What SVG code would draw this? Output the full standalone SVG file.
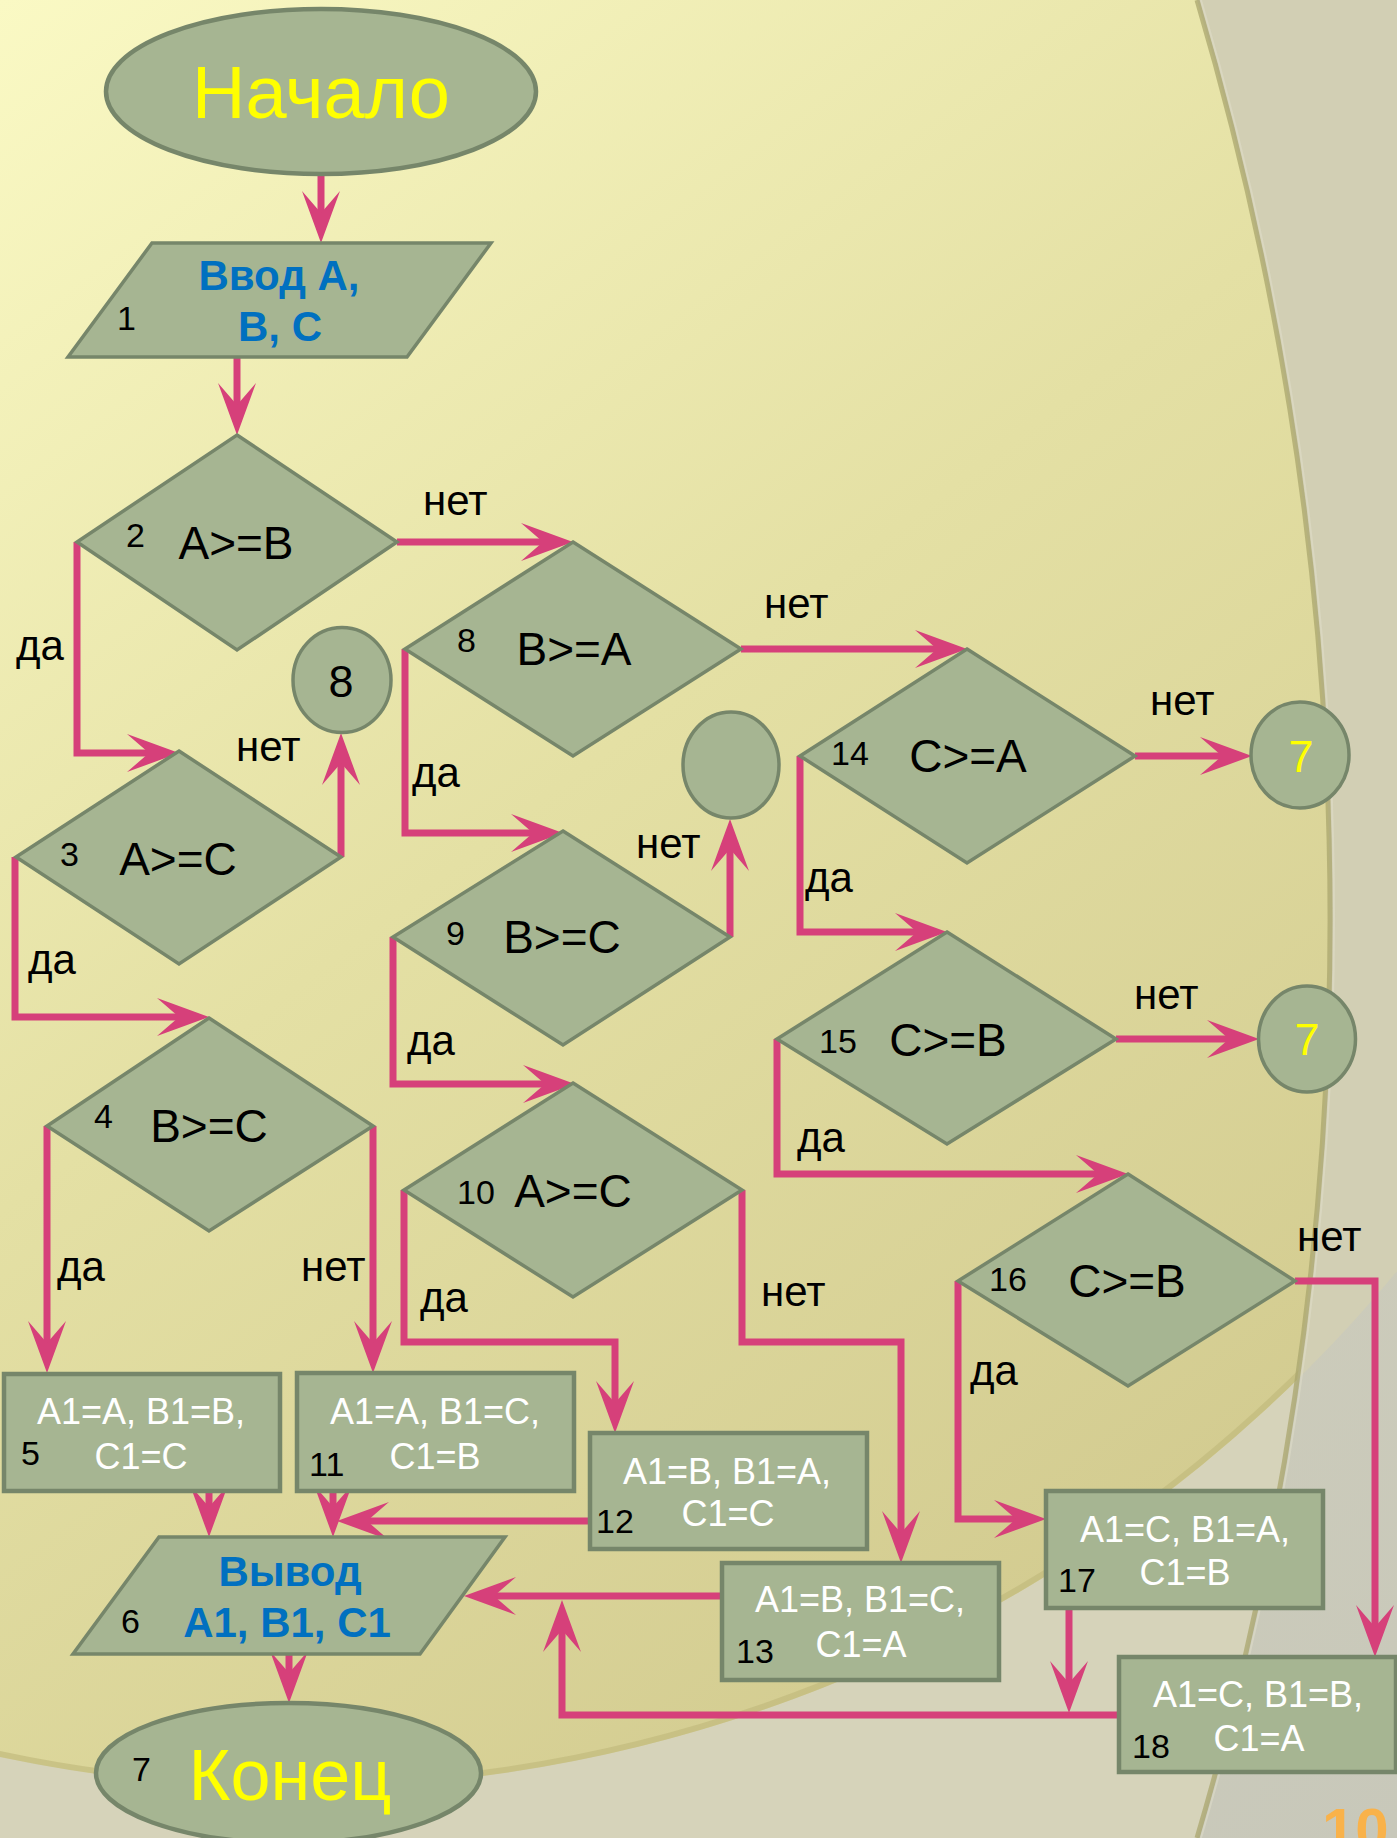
<svg xmlns="http://www.w3.org/2000/svg" width="1397" height="1838" viewBox="0 0 1397 1838">
<defs>
<style>
.sh{fill:#A6B592;stroke:#76866A;stroke-width:3.5}
.bx{fill:#A6B592;stroke:#76866A;stroke-width:4.5}
.cn{fill:none;stroke:#D6407A;stroke-width:7;stroke-linejoin:miter;marker-end:url(#ah)}
.ln{fill:none;stroke:#D6407A;stroke-width:7}
text{font-family:"Liberation Sans",Arial,sans-serif}
.cond{font-size:46px;fill:#000;text-anchor:middle}
.num{font-size:34px;fill:#000}
.lbl{font-size:42px;fill:#000}
.bt{font-size:36px;fill:#FFFFFF;text-anchor:middle}
.io{font-size:42px;font-weight:bold;fill:#0070C0;text-anchor:middle}
.term{fill:#FFFF00;text-anchor:middle}
</style>
<marker id="ah" viewBox="0 0 52 38" refX="22" refY="19" markerWidth="52" markerHeight="38" markerUnits="userSpaceOnUse" orient="auto">
<path d="M52,19 L0,0 L22,19 L0,38 Z" fill="#D6407A"/>
</marker>
<linearGradient id="yel" gradientUnits="userSpaceOnUse" x1="0" y1="0" x2="1300" y2="1700">
<stop offset="0" stop-color="#FAF9C4"/>
<stop offset="0.45" stop-color="#E4E0A4"/>
<stop offset="1" stop-color="#CFC78C"/>
</linearGradient>
<linearGradient id="gry" gradientUnits="userSpaceOnUse" x1="0" y1="0" x2="1397" y2="1838">
<stop offset="0" stop-color="#DAD7BC"/>
<stop offset="1" stop-color="#C8C8BA"/>
</linearGradient>
<clipPath id="inarc">
<path d="M0,0 H1197 A3240,3240 0 0 1 1197,1838 H0 Z"/>
</clipPath>
</defs>

<g id="background">
<rect x="0" y="0" width="1397" height="1838" fill="url(#gry)"/>
<circle cx="297" cy="359" r="1429" fill="#D2CFB4"/>
<path d="M0,0 H1197 A3240,3240 0 0 1 1197,1838 H0 Z" fill="#D6D3BA"/>
<g clip-path="url(#inarc)">
<circle cx="297" cy="359" r="1429" fill="url(#yel)"/>
<circle cx="297" cy="359" r="1426" fill="none" stroke="#C2BA7E" stroke-width="6" opacity="0.7"/>
</g>
<path d="M1197,0 A3240,3240 0 0 1 1197,1838" fill="none" stroke="#A9A56E" stroke-width="5" opacity="0.75"/>
<path d="M1201,0 A3240,3240 0 0 1 1201,1838" fill="none" stroke="#E2E0CC" stroke-width="2" opacity="0.5"/>
<text x="1322" y="1850" font-size="60" font-weight="bold" fill="#F9B24A">10</text>
</g>

<g id="connectors">
<path class="cn" d="M321,174 V213"/>
<path class="cn" d="M237,357 V405"/>
<path class="cn" d="M77,542 V753 H149"/>
<path class="cn" d="M397,542 H543"/>
<path class="cn" d="M341,857 V763"/>
<path class="cn" d="M15,857 V1017 H179"/>
<path class="cn" d="M405,649 V833 H533"/>
<path class="cn" d="M741,649 H937"/>
<path class="cn" d="M730,937 V849"/>
<path class="cn" d="M393,937 V1084 H545"/>
<path class="cn" d="M1135,756 H1222"/>
<path class="cn" d="M800,756 V932 H917"/>
<path class="cn" d="M1116,1039 H1229"/>
<path class="cn" d="M777,1039 V1174 H1098"/>
<path class="cn" d="M1295,1281 H1375 V1627"/>
<path class="cn" d="M958,1281 V1519 H1016"/>
<path class="cn" d="M47,1126 V1343"/>
<path class="cn" d="M373,1126 V1343"/>
<path class="cn" d="M404,1190 V1342 H615 V1403"/>
<path class="cn" d="M742,1190 V1342 H901 V1533"/>
<path class="cn" d="M209,1491 V1507"/>
<path class="cn" d="M333,1491 V1507"/>
<path class="cn" d="M590,1521 H367"/>
<path class="cn" d="M722,1596 H494"/>
<path class="cn" d="M1119,1715 H562 V1630"/>
<path class="cn" d="M1069,1608 V1683"/>
<path class="cn" d="M289,1654 V1673"/>
<text class="lbl" x="423" y="515">нет</text>
<text class="lbl" x="16" y="660">да</text>
<text class="lbl" x="236" y="761">нет</text>
<text class="lbl" x="28" y="974">да</text>
<text class="lbl" x="57" y="1281">да</text>
<text class="lbl" x="301" y="1281">нет</text>
<text class="lbl" x="764" y="618">нет</text>
<text class="lbl" x="412" y="787">да</text>
<text class="lbl" x="636" y="858">нет</text>
<text class="lbl" x="407" y="1055">да</text>
<text class="lbl" x="420" y="1312">да</text>
<text class="lbl" x="761" y="1306">нет</text>
<text class="lbl" x="1150" y="715">нет</text>
<text class="lbl" x="805" y="892">да</text>
<text class="lbl" x="1134" y="1009">нет</text>
<text class="lbl" x="797" y="1152">да</text>
<text class="lbl" x="1297" y="1251">нет</text>
<text class="lbl" x="970" y="1385">да</text>
</g>

<g id="start">
<ellipse class="bx" cx="321" cy="91.5" rx="215" ry="82.5"/>
<text class="term" x="321" y="118" font-size="74">Начало</text>
</g>

<g id="n1">
<polygon class="sh" points="152,243 491,243 407,357 68,357"/>
<text class="io" x="279" y="290">Ввод A,</text>
<text class="io" x="280" y="341">B, C</text>
<text class="num" x="117" y="330">1</text>
</g>

<g id="n2">
<polygon class="sh" points="237,435 397,542 237,650 77,542"/>
<text class="cond" x="236" y="559">A&gt;=B</text>
<text class="num" x="126" y="547">2</text>
</g>

<g id="n3">
<polygon class="sh" points="179,751 341,857 179,964 16,857"/>
<text class="cond" x="178" y="875">A&gt;=C</text>
<text class="num" x="60" y="866">3</text>
</g>

<g id="n4">
<polygon class="sh" points="209,1018 373,1126 209,1231 47,1126"/>
<text class="cond" x="209" y="1142">B&gt;=C</text>
<text class="num" x="94" y="1128">4</text>
</g>

<g id="c8">
<ellipse class="sh" cx="342" cy="680" rx="49" ry="52.5"/>
<text x="341" y="697" font-size="45" text-anchor="middle" fill="#000">8</text>
</g>

<g id="n8">
<polygon class="sh" points="573,542 741,649 573,756 405,649"/>
<text class="cond" x="574" y="665">B&gt;=A</text>
<text class="num" x="457" y="652">8</text>
</g>

<g id="cempty">
<ellipse class="sh" cx="731" cy="765" rx="48" ry="53"/>
</g>

<g id="n9">
<polygon class="sh" points="563,831 730,937 563,1045 393,937"/>
<text class="cond" x="562" y="953">B&gt;=C</text>
<text class="num" x="446" y="945">9</text>
</g>

<g id="n10">
<polygon class="sh" points="573,1083 742,1190 573,1297 404,1190"/>
<text class="cond" x="573" y="1207">A&gt;=C</text>
<text class="num" x="457" y="1204">10</text>
</g>

<g id="n14">
<polygon class="sh" points="967,649 1135,756 967,863 800,756"/>
<text class="cond" x="968" y="772">C&gt;=A</text>
<text class="num" x="831" y="765">14</text>
</g>

<g id="c7a">
<ellipse class="sh" cx="1300" cy="755" rx="49" ry="53"/>
<text x="1301" y="772" font-size="45" text-anchor="middle" fill="#FFFF00">7</text>
</g>

<g id="n15">
<polygon class="sh" points="947,932 1116,1039 947,1144 777,1039"/>
<text class="cond" x="948" y="1056">C&gt;=B</text>
<text class="num" x="819" y="1053">15</text>
</g>

<g id="c7b">
<ellipse class="sh" cx="1307" cy="1039" rx="48.5" ry="53"/>
<text x="1307" y="1055" font-size="45" text-anchor="middle" fill="#FFFF00">7</text>
</g>

<g id="n16">
<polygon class="sh" points="1128,1174 1295,1281 1128,1386 958,1281"/>
<text class="cond" x="1127" y="1297">C&gt;=B</text>
<text class="num" x="989" y="1291">16</text>
</g>

<g id="n5">
<rect class="bx" x="4" y="1374" width="276" height="117"/>
<text class="bt" x="141" y="1424">A1=A, B1=B,</text>
<text class="bt" x="141" y="1469">C1=C</text>
<text class="num" x="21" y="1465">5</text>
</g>

<g id="n11">
<rect class="bx" x="297" y="1373" width="277" height="118"/>
<text class="bt" x="435" y="1424">A1=A, B1=C,</text>
<text class="bt" x="435" y="1469">C1=B</text>
<text class="num" x="309" y="1476">11</text>
</g>

<g id="n12">
<rect class="bx" x="590" y="1433" width="277" height="116"/>
<text class="bt" x="727" y="1484">A1=B, B1=A,</text>
<text class="bt" x="728" y="1526">C1=C</text>
<text class="num" x="596" y="1533">12</text>
</g>

<g id="n13">
<rect class="bx" x="722" y="1563" width="277" height="117"/>
<text class="bt" x="860" y="1612">A1=B, B1=C,</text>
<text class="bt" x="861" y="1657">C1=A</text>
<text class="num" x="736" y="1663">13</text>
</g>

<g id="n17">
<rect class="bx" x="1046" y="1491" width="277" height="117"/>
<text class="bt" x="1185" y="1542">A1=C, B1=A,</text>
<text class="bt" x="1185" y="1585">C1=B</text>
<text class="num" x="1058" y="1592">17</text>
</g>

<g id="n18">
<rect class="bx" x="1119" y="1657" width="277" height="115"/>
<text class="bt" x="1258" y="1707">A1=C, B1=B,</text>
<text class="bt" x="1259" y="1751">C1=A</text>
<text class="num" x="1132" y="1758">18</text>
</g>

<g id="n6">
<polygon class="sh" points="159,1537 505,1537 420,1654 73,1654"/>
<text class="io" x="290" y="1586">Вывод</text>
<text class="io" x="287" y="1637">A1, B1, C1</text>
<text class="num" x="121" y="1633">6</text>
</g>

<g id="end">
<ellipse class="bx" cx="288.5" cy="1773" rx="192.5" ry="70"/>
<text class="term" x="290" y="1800" font-size="72">Конец</text>
<text class="num" x="132" y="1781">7</text>
</g>
</svg>
